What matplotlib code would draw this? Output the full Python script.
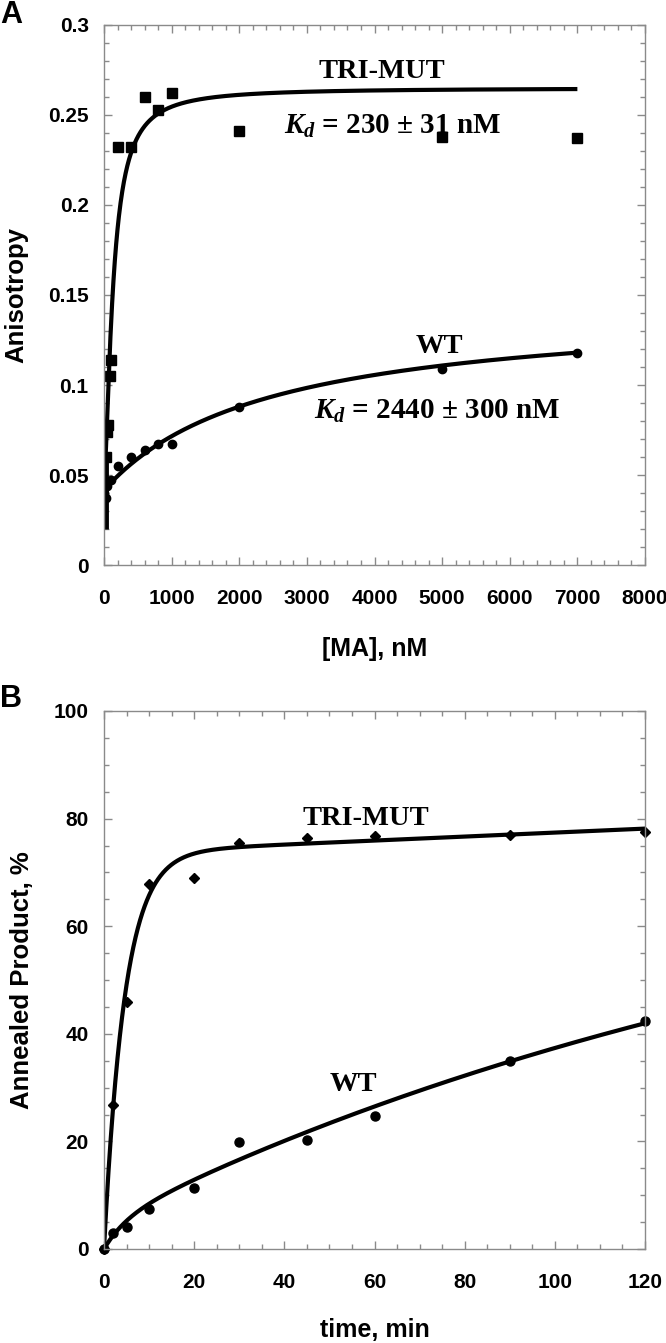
import numpy as np
import matplotlib
matplotlib.use("Agg")
import matplotlib.pyplot as plt
from matplotlib.ticker import MultipleLocator, FormatStrFormatter

# Panel A - anisotropy titration
ma_tri = [0, 25, 50, 60, 90, 100, 200, 400, 600, 800, 1000, 2000, 5000, 7000]
aniso_tri = [0.046, 0.060, 0.074, 0.078, 0.105, 0.114, 0.232, 0.232, 0.260, 0.253, 0.262, 0.241, 0.238, 0.237]
ma_wt = [0, 25, 50, 100, 200, 400, 600, 800, 1000, 2000, 5000, 7000]
aniso_wt = [0.040, 0.037, 0.044, 0.047, 0.055, 0.060, 0.064, 0.067, 0.067, 0.088, 0.109, 0.118]
wt_err0 = 0.02

# fitted curve parameters (read from the drawn fits)
tri_fit = dict(y0=0.045, amp=0.22, k=135.0, n=1.5)
wt_fit = dict(y0=0.0416, amp=0.103, kd=2440.0)

# Panel B - annealing kinetics
t_tri = [0, 2, 5, 10, 20, 30, 45, 60, 90, 120]
ann_tri = [0, 26.8, 46.0, 67.8, 69.0, 75.5, 76.4, 76.8, 76.9, 77.5]
t_wt = [0, 2, 5, 10, 20, 30, 45, 60, 90, 120]
ann_wt = [0, 2.9, 4.1, 7.4, 11.4, 19.9, 20.3, 24.7, 35.0, 42.4]

tri_kin = dict(amp=73.7, k=0.218, slope=0.037)
wt_kin = dict(a1=5.0, k1=0.2, a2=76.8, k2=0.00547)

plt.rcParams["font.family"] = ["Liberation Sans", "DejaVu Sans"]
plt.rcParams["mathtext.fontset"] = "custom"
plt.rcParams["mathtext.it"] = "Liberation Serif:italic:bold"
plt.rcParams["mathtext.rm"] = "Liberation Serif:bold"

SPINE = "#8a8a8a"
SERIF = ["Liberation Serif", "DejaVu Serif"]
ANN = 20.5

fig = plt.figure(figsize=(6.66, 13.43), dpi=100)
axA = fig.add_axes([104 / 666, 1 - 565 / 1343, 541 / 666, 540 / 1343])
axB = fig.add_axes([104 / 666, 1 - 1249 / 1343, 541 / 666, 538 / 1343])


def style_axes(ax):
    for sp in ax.spines.values():
        sp.set_color(SPINE)
        sp.set_linewidth(1.0)
    ax.tick_params(which="both", direction="in", top=True, right=True, colors=SPINE,
                   labelcolor="black", width=1.0)
    ax.tick_params(which="major", length=6)
    ax.tick_params(which="minor", length=3.5)
    ax.tick_params(axis="x", pad=17)
    ax.tick_params(axis="y", pad=11)
    for lab in ax.get_xticklabels() + ax.get_yticklabels():
        lab.set_fontsize(15)
        lab.set_fontweight("bold")


# ---- A ----
xa = np.linspace(0, 7000, 1400)
ya_tri = tri_fit["y0"] + tri_fit["amp"] * xa ** tri_fit["n"] / (tri_fit["k"] ** tri_fit["n"] + xa ** tri_fit["n"])
ya_wt = wt_fit["y0"] + wt_fit["amp"] * xa / (wt_fit["kd"] + xa)
axA.plot(xa, ya_tri, color="black", lw=3, solid_capstyle="butt")
axA.plot(xa, ya_wt, color="black", lw=3, solid_capstyle="butt")
axA.errorbar([m + 25 for m in ma_wt[:1]], aniso_wt[:1], yerr=wt_err0, fmt="none", ecolor="black",
             elinewidth=3.5, capsize=0)
axA.plot(ma_tri, aniso_tri, "s", color="black", ms=6.5, ls="none")
axA.plot(ma_wt, aniso_wt, "o", color="black", ms=6, ls="none")

axA.set_xlim(0, 8000)
axA.set_ylim(0, 0.3)
axA.xaxis.set_major_locator(MultipleLocator(1000))
axA.xaxis.set_minor_locator(MultipleLocator(200))
axA.yaxis.set_major_locator(MultipleLocator(0.05))
axA.yaxis.set_minor_locator(MultipleLocator(0.01))
axA.yaxis.set_major_formatter(FormatStrFormatter("%g"))
style_axes(axA)
axA.set_xlabel("[MA], nM", fontsize=18, fontweight="bold", labelpad=21)
axA.set_ylabel("Anisotropy", fontsize=18.5, fontweight="bold", labelpad=14)

axA.text(4111, 0.274, "TRI-MUT", family=SERIF, fontweight="bold", fontsize=ANN, ha="center", va="center")
axA.text(4274, 0.2435, r"$K_d$ = 230 ± 31 nM", family=SERIF, fontweight="bold", fontsize=ANN + 0.5,
         ha="center", va="center")
axA.text(4954, 0.1213, "WT", family=SERIF, fontweight="bold", fontsize=ANN, ha="center", va="center")
axA.text(4924, 0.0852, r"$K_d$ = 2440 ± 300 nM", family=SERIF, fontweight="bold", fontsize=ANN + 0.5,
         ha="center", va="center")

# ---- B ----
tb = np.linspace(0, 120, 1200)
yb_tri = tri_kin["amp"] * (1 - np.exp(-tri_kin["k"] * tb)) + tri_kin["slope"] * tb
yb_wt = wt_kin["a1"] * (1 - np.exp(-wt_kin["k1"] * tb)) + wt_kin["a2"] * (1 - np.exp(-wt_kin["k2"] * tb))
axB.plot(tb, yb_tri, color="black", lw=3)
axB.plot(tb, yb_wt, color="black", lw=3)
axB.plot(t_tri, ann_tri, "D", color="black", ms=5.5, ls="none", clip_on=False)
axB.plot(t_wt, ann_wt, "o", color="black", ms=6.5, ls="none", clip_on=False)

axB.set_xlim(0, 120)
axB.set_ylim(0, 100)
axB.xaxis.set_major_locator(MultipleLocator(20))
axB.xaxis.set_minor_locator(MultipleLocator(5))
axB.yaxis.set_major_locator(MultipleLocator(20))
axB.yaxis.set_minor_locator(MultipleLocator(5))
style_axes(axB)
axB.set_xlabel("time, min", fontsize=18, fontweight="bold", labelpad=19)
axB.set_ylabel("Annealed Product, %", fontsize=18.5, fontweight="bold", labelpad=14)

axB.text(58.0, 80.05, "TRI-MUT", family=SERIF, fontweight="bold", fontsize=ANN, ha="center", va="center")
axB.text(55.4, 30.6, "WT", family=SERIF, fontweight="bold", fontsize=ANN, ha="center", va="center")

fig.text(0.0, 1 - 15 / 1343, "A", fontsize=22, fontweight="bold", ha="left", va="center")
fig.text(0.0, 1 - 699 / 1343, "B", fontsize=22, fontweight="bold", ha="left", va="center")

fig.savefig("out.png", dpi=100)
